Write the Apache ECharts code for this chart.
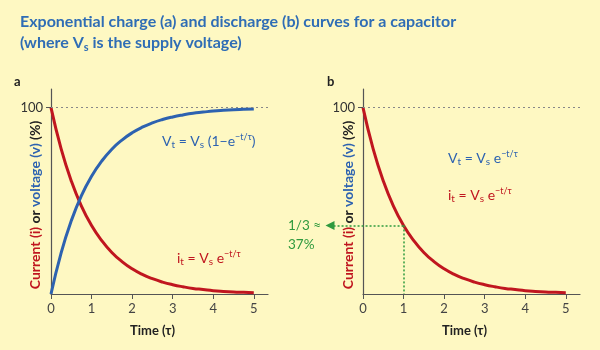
<!DOCTYPE html>
<html>
<head>
<meta charset="utf-8">
<script src="https://cdn.jsdelivr.net/npm/echarts@6/dist/echarts.min.js"></script>
<style>
  html, body { margin: 0; padding: 0; background: #fef8c2; }
  #chart { width: 600px; height: 350px; }
</style>
</head>
<body>
<div id="chart"></div>
<script>
// time in units of tau
var timeTau = [0, 0.25, 0.5, 0.75, 1, 1.25, 1.5, 1.75, 2, 2.25, 2.5, 2.75, 3, 3.25, 3.5, 3.75, 4, 4.25, 4.5, 4.75, 5];
// (a) charging voltage, % of supply
var chargeVoltage = [0, 22.1, 39.3, 52.8, 63.2, 71.3, 77.7, 82.6, 86.5, 89.5, 91.8, 93.6, 95.0, 96.1, 97.0, 97.6, 98.2, 98.6, 98.9, 99.1, 99.3];
// (a) charging current / (b) discharge, % of start
var decayCurve = [100, 77.9, 60.7, 47.2, 36.8, 28.7, 22.3, 17.4, 13.5, 10.5, 8.2, 6.4, 5.0, 3.9, 3.0, 2.4, 1.8, 1.4, 1.1, 0.9, 0.7];
var xTicks = [0, 1, 2, 3, 4, 5];
var yTicks = [100];
var fullLevel = 100;
var oneTauLevel = 36.8;

var RED = '#c0161f', BLUE = '#2d62b0', GREEN = '#2f9a3e', TITLE = '#2f6db5';
var FONT = 'Lato, "Open Sans", sans-serif';

function pairs(ys) {
    var out = [];
    timeTau.forEach(function (t, i) { out.push([t, ys[i]]); });
    return out;
}

var dom = document.getElementById('chart');
var myEcharts = echarts.init(dom);

function makeX(idx) {
    return {
        type: 'value', gridIndex: idx, min: 0, max: 5.35, interval: 1,
        axisLine: { lineStyle: { color: '#555', width: 1.2 } },
        axisTick: { show: true, length: 5, lineStyle: { color: '#555' }, customValues: xTicks },
        axisLabel: { margin: 8, color: '#444', fontSize: 13, fontFamily: FONT, customValues: xTicks },
        splitLine: { show: false },
        name: 'Time (τ)', nameLocation: 'middle', nameGap: 30,
        nameTextStyle: { fontSize: 13, fontWeight: 'bold', color: '#222', fontFamily: FONT, padding: [0, 14, 0, 0] }
    };
}
function makeY(idx) {
    return {
        type: 'value', gridIndex: idx, min: 0, max: 110, interval: 10,
        axisLine: { show: true, lineStyle: { color: '#555', width: 1.2 } },
        axisTick: { show: true, length: 5, lineStyle: { color: '#555' }, customValues: yTicks },
        axisLabel: { margin: 8, color: '#333', fontSize: 13, fontFamily: FONT, customValues: yTicks },
        splitLine: { show: false }
    };
}

var fullLine = {
    silent: true, symbol: 'none', label: { show: false },
    lineStyle: { type: [2, 3], color: '#888', width: 1 },
    data: [{ yAxis: fullLevel }]
};

function formula(color) {
    return {
        m: { fontSize: 14, fill: color, fontFamily: FONT },
        s: { fontSize: 10, fill: color, fontFamily: FONT, padding: [7, 0, 0, 0] },
        p: { fontSize: 9, fill: color, fontFamily: FONT, padding: [0, 0, 7, 0] }
    };
}
var axisNameRich = {
    r: { fontSize: 14, fontWeight: 'bold', fill: RED, fontFamily: FONT },
    k: { fontSize: 14, fontWeight: 'bold', fill: '#222', fontFamily: FONT },
    b: { fontSize: 14, fontWeight: 'bold', fill: BLUE, fontFamily: FONT }
};

var option = {
    backgroundColor: '#fef8c2',
    animation: false,
    grid: [
        { left: 51, top: 89, width: 217, height: 205 },
        { left: 363, top: 89, width: 217, height: 205 }
    ],
    xAxis: [makeX(0), makeX(1)],
    yAxis: [makeY(0), makeY(1)],
    series: [
        {
            name: 'current a', type: 'line', xAxisIndex: 0, yAxisIndex: 0, smooth: true,
            showSymbol: false, data: pairs(decayCurve), lineStyle: { color: RED, width: 3 }, z: 3,
            markLine: fullLine
        },
        {
            name: 'voltage a', type: 'line', xAxisIndex: 0, yAxisIndex: 0, smooth: true,
            showSymbol: false, data: pairs(chargeVoltage), lineStyle: { color: BLUE, width: 3 }, z: 4
        },
        {
            name: 'discharge b', type: 'line', xAxisIndex: 1, yAxisIndex: 1, smooth: true,
            showSymbol: false, data: pairs(decayCurve), lineStyle: { color: RED, width: 3 }, z: 4,
            markLine: fullLine
        }
    ],
    graphic: [
        { type: 'text', left: 20, top: 14, style: {
            text: 'Exponential charge (a) and discharge (b) curves for a capacitor',
            fontSize: 16, fontWeight: 'bold', fill: TITLE, fontFamily: FONT } },
        { type: 'text', left: 20, top: 35, style: {
            text: '{m|(where V}{s|s}{m| is the supply voltage)}',
            rich: {
                m: { fontSize: 16, fontWeight: 'bold', fill: TITLE, fontFamily: FONT },
                s: { fontSize: 11, fontWeight: 'bold', fill: TITLE, fontFamily: FONT, padding: [8, 0, 0, 0] }
            } } },
        { type: 'text', left: 14, top: 75, style: { text: 'a', fontSize: 13, fontWeight: 'bold', fill: '#222', fontFamily: FONT } },
        { type: 'text', left: 327, top: 75, style: { text: 'b', fontSize: 13, fontWeight: 'bold', fill: '#222', fontFamily: FONT } },
        { type: 'text', x: 35, y: 205, rotation: Math.PI / 2, style: {
            text: '{r|Current (i)} {k|or} {b|voltage (v)} {k|(%)}', align: 'center', verticalAlign: 'middle',
            rich: axisNameRich } },
        { type: 'text', x: 348, y: 205, rotation: Math.PI / 2, style: {
            text: '{r|Current (i)} {k|or} {b|voltage (v)} {k|(%)}', align: 'center', verticalAlign: 'middle',
            rich: axisNameRich } },
        { type: 'text', left: 162, top: 133, style: {
            text: '{m|V}{s|t}{m| = V}{s|s}{m| (1−e}{p|−t/τ}{m|)}', rich: formula(BLUE) } },
        { type: 'text', left: 177, top: 250, style: {
            text: '{m|i}{s|t}{m| = V}{s|s}{m| e}{p|−t/τ}', rich: formula(RED) } },
        { type: 'text', left: 448, top: 150, style: {
            text: '{m|V}{s|t}{m| = V}{s|s}{m| e}{p|−t/τ}', rich: formula(BLUE) } },
        { type: 'text', left: 448, top: 187, style: {
            text: '{m|i}{s|t}{m| = V}{s|s}{m| e}{p|−t/τ}', rich: formula(RED) } },
        { type: 'text', left: 288, top: 216, style: {
            text: '1/3 ≈\n37%', fontSize: 13.5, fill: GREEN, fontFamily: FONT, lineHeight: 19 } }
    ]
};
myEcharts.setOption(option);

// 1/3 level guide in panel b: down to the time axis and left to the arrow
var p = myEcharts.convertToPixel({ gridIndex: 1 }, [1, oneTauLevel]);
var greenStyle = { type: [2, 2], color: GREEN, width: 1.5 };
option.series[2].markLine = {
    silent: true, symbol: 'none', label: { show: false },
    lineStyle: greenStyle,
    data: [
        [{ yAxis: fullLevel, xAxis: 0, lineStyle: { type: [2, 3], color: '#888', width: 1 } }, { yAxis: fullLevel, xAxis: 5.35 }],
        [{ coord: [1, oneTauLevel], lineStyle: greenStyle }, { coord: [1, 0] }],
        [{ coord: [1, oneTauLevel], lineStyle: greenStyle }, { x: 330, y: p[1], symbol: 'triangle', symbolSize: [9, 9] }]
    ]
};
myEcharts.setOption(option);
</script>
</body>
</html>
